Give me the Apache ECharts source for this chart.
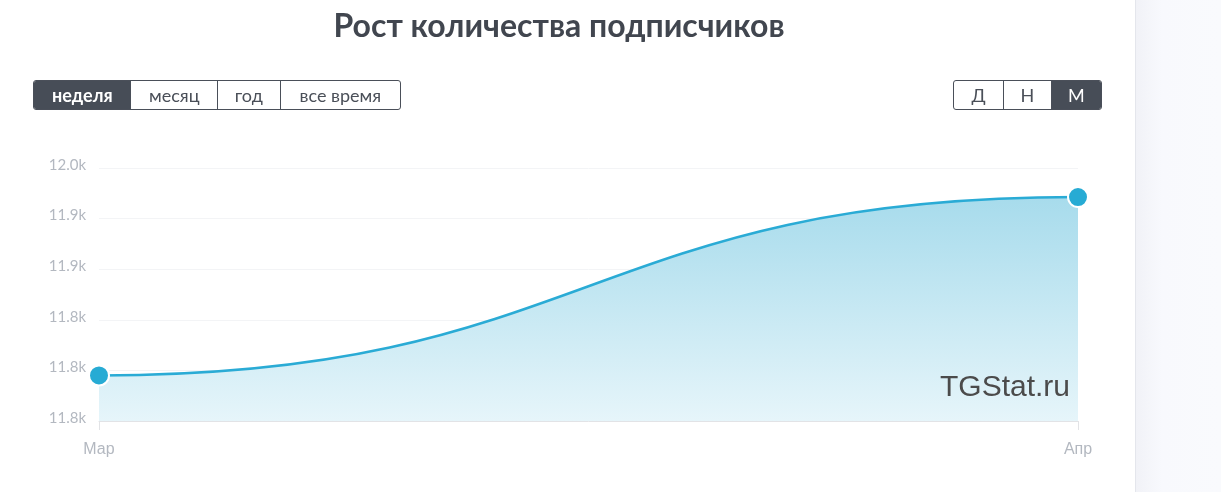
<!DOCTYPE html>
<html>
<head>
<meta charset="utf-8">
<script src="https://cdn.jsdelivr.net/npm/echarts@6/dist/echarts.min.js"></script>
<style>
  html, body { margin:0; padding:0; background:#fff; }
  #wrap { position:relative; width:1221px; height:492px; overflow:hidden; font-family: Lato, 'Noto Sans', sans-serif; }
  #panel { position:absolute; left:1135px; top:0; width:86px; height:492px;
           background:linear-gradient(to right,#f1f2f7,#f8f9fd 30%,#f9fafd); border-left:1px solid #e4e6ec; box-sizing:border-box; }
  #chart { position:absolute; left:0; top:0; width:1221px; height:492px; }
  .grp { position:absolute; top:80px; height:30px; display:flex; border:1px solid #4a4f59; border-radius:3px; box-sizing:border-box; overflow:hidden; z-index:2; background:#fff; }
  .grp div { height:28px; line-height:28px; text-align:center; font-size:18px; color:#4a4f58; border-left:1px solid #4a4f59; box-sizing:border-box; }
  .grp div:first-child { border-left:none; }
  .grp div.on { background:#474d57; color:#fff; font-weight:700; }
</style>
</head>
<body>
<div id="wrap">
  <div id="panel"></div>
  <div id="chart"></div>
  <div class="grp" style="left:33px;width:368px;">
    <div class="on" style="width:97px">неделя</div>
    <div style="width:87px">месяц</div>
    <div style="width:63px">год</div>
    <div style="width:121px">все время</div>
  </div>
  <div class="grp" style="left:953px;width:149px;">
    <div style="width:50px">Д</div>
    <div style="width:48px">Н</div>
    <div class="on" style="width:51px;font-weight:400">М</div>
  </div>
</div>
<script>
const categories = ['Мар', 'Апр'];
const subscribers = [11796, 11937];
const yMin = 11760, yMax = 11960, yInterval = 40;
const titleText = 'Рост количества подписчиков';
const watermark = 'TGStat.ru';

const segments = [];
for (let i = 0; i < subscribers.length - 1; i++) {
  segments.push([i, subscribers[i], i + 1, subscribers[i + 1]]);
}

const chart = echarts.init(document.getElementById('chart'), null, { renderer: 'canvas' });
const lineColor = '#2aabd5';

chart.setOption({
  animation: false,
  title: {
    text: titleText,
    left: 554, top: 6, textAlign: 'center',
    textStyle: { fontFamily: "Lato, 'Noto Sans', sans-serif", fontSize: 32, fontWeight: 'bold', color: '#41464f' }
  },
  grid: { left: 99, right: 143, top: 168, bottom: 71 },
  xAxis: {
    type: 'category', data: categories, boundaryGap: false,
    axisLine: { lineStyle: { color: '#e2e3e6', width: 1 } },
    axisTick: { show: true, length: 9, lineStyle: { color: '#e2e3e6' } },
    axisLabel: { color: '#b3b8c0', fontSize: 16, margin: 21, fontFamily: "'Liberation Sans', Arial, sans-serif" },
    splitLine: { show: false }
  },
  yAxis: {
    type: 'value', min: yMin, max: yMax, interval: yInterval,
    axisLine: { show: false }, axisTick: { show: false },
    axisLabel: {
      color: '#b3b8c0', fontSize: 15, margin: 13,
      verticalAlign: 'bottom', lineHeight: 6,
      fontFamily: "Lato, 'Noto Sans', sans-serif",
      formatter: v => (v / 1000).toFixed(1) + 'k'
    },
    splitLine: { lineStyle: { color: '#f3f4f6', width: 1 } }
  },
  graphic: [{
    type: 'text', right: 151, top: 373, z: 10,
    style: { text: watermark, fontFamily: "'Liberation Sans', Arial, sans-serif", fontSize: 30, fill: '#4b4b4b' }
  }],
  series: [
    {
      type: 'custom',
      data: segments,
      encode: { x: [0, 2], y: [1, 3] },
      z: 2,
      renderItem: function (params, api) {
        const p0 = api.coord([api.value(0), api.value(1)]);
        const p1 = api.coord([api.value(2), api.value(3)]);
        const cs = params.coordSys;
        const bottom = cs.y + cs.height;
        const mx = (p0[0] + p1[0]) / 2;
        const curve = `M${p0[0]},${p0[1]} C${mx},${p0[1]} ${mx},${p1[1]} ${p1[0]},${p1[1]}`;
        const area = curve + ` L${p1[0]},${bottom} L${p0[0]},${bottom} Z`;
        return {
          type: 'group',
          children: [
            {
              type: 'path', shape: { pathData: area },
              style: {
                fill: {
                  type: 'linear', x: 0, y: cs.y, x2: 0, y2: bottom, global: true,
                  colorStops: [
                    { offset: 0, color: '#9fd8ea' },
                    { offset: 1, color: '#e6f5fa' }
                  ]
                },
                stroke: null
              }
            },
            {
              type: 'path', shape: { pathData: curve },
              style: { fill: null, stroke: lineColor, lineWidth: 2.5 }
            }
          ]
        };
      }
    },
    {
      type: 'scatter',
      data: subscribers,
      symbol: 'circle', symbolSize: 20, z: 5,
      itemStyle: { color: '#27abd4', borderColor: '#fff', borderWidth: 2, opacity: 1 }
    }
  ]
});
</script>
</body>
</html>
